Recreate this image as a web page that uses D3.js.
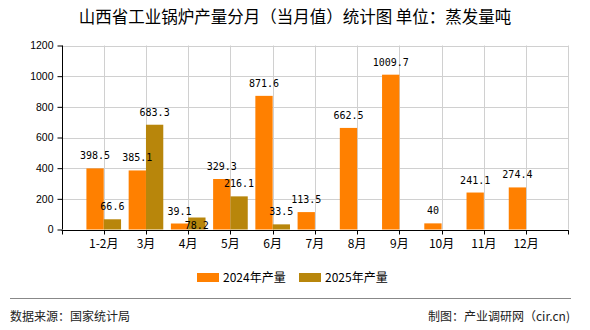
<!DOCTYPE html>
<html><head><meta charset="utf-8">
<script src="https://cdn.jsdelivr.net/npm/d3@7"></script>
<style>body{margin:0;background:#fff}svg{display:block}</style>
</head><body>
<script>
const categories = ["1-2月","3月","4月","5月","6月","7月","8月","9月","10月","11月","12月"];
const series2024 = [398.5,385.1,39.1,329.3,871.6,113.5,662.5,1009.7,40,241.1,274.4];
const series2025 = [66.6,683.3,78.2,216.1,33.5,null,null,null,null,null,null];
const seriesNames = ["2024年产量","2025年产量"];
const seriesColors = ["#FF8000","#B8860B"];
const yTicks = [0,200,400,600,800,1000,1200];
const title = "山西省工业锅炉产量分月（当月值）统计图 单位：蒸发量吨";
const sourceText = "数据来源：国家统计局";
const creditText = "制图：产业调研网（cir.cn)";

const W = 590, H = 330;
const svg = d3.select("body").append("svg").attr("width", W).attr("height", H);
const L = 61.5, R = 568.3, T = 45.5, B = 229.5;
const cjk = "'Noto Sans CJK SC','Noto Sans',sans-serif";

const x = d3.scaleBand().domain(categories).range([L, R]).paddingInner(0).paddingOuter(0.5);
const y = d3.scaleLinear().domain([0, 1200]).range([B, T]);
const barW = x.step() * 0.41;
const series = [series2024, series2025];

// gridlines
const g = svg.append("g");
g.selectAll("line.h").data(yTicks.filter(d => d > 0)).join("line")
  .attr("x1", L).attr("x2", R).attr("y1", d => Math.round(y(d)) + 0.5).attr("y2", d => Math.round(y(d)) + 0.5)
  .attr("stroke", "#d0d0d0");
g.selectAll("line.v").data(categories).join("line")
  .attr("x1", d => Math.round(x(d) + x.bandwidth()/2) + 0.5).attr("x2", d => Math.round(x(d) + x.bandwidth()/2) + 0.5)
  .attr("y1", T).attr("y2", B).attr("stroke", "#d0d0d0");
g.append("line").attr("x1", Math.round(R)+0.5).attr("x2", Math.round(R)+0.5).attr("y1", T).attr("y2", B).attr("stroke", "#d0d0d0");

// bars
series.forEach((s, si) => {
  svg.append("g").selectAll("rect").data(categories.map((c, i) => ({c, v: s[i]})).filter(d => d.v != null)).join("rect")
    .attr("x", d => x(d.c) + x.bandwidth()/2 - barW + si * barW)
    .attr("width", barW)
    .attr("y", d => y(d.v))
    .attr("height", d => B - y(d.v))
    .attr("fill", seriesColors[si]);
});

// axes
const yAxis = svg.append("g").attr("transform", `translate(${Math.round(L)+0.5},0)`)
  .call(d3.axisLeft(y).tickValues(yTicks).tickSize(5).tickPadding(4).tickFormat(d3.format("d")));
yAxis.select(".domain").attr("stroke", "#000").attr("d", `M-0,${T}V${B}`);
yAxis.selectAll("text").attr("font-family", "'Liberation Sans',Arial,sans-serif").attr("font-size", "10.5px").attr("fill", "#000");

const xAxisG = svg.append("g").attr("transform", `translate(0,${Math.round(B)+0.5})`);
xAxisG.append("line").attr("x1", L).attr("x2", R + 0.5).attr("stroke", "#000");
const tickXs = [L].concat(categories.map(c => x(c) + x.bandwidth()/2)).concat([R]);
xAxisG.selectAll("line.t").data(tickXs).join("line")
  .attr("x1", d => Math.round(d) + 0.5).attr("x2", d => Math.round(d) + 0.5).attr("y1", 0).attr("y2", 4).attr("stroke", "#000");
xAxisG.selectAll("text").data(categories).join("text")
  .attr("x", d => x(d) + x.bandwidth()/2).attr("y", 17.5).attr("text-anchor", "middle")
  .attr("font-family", cjk).attr("font-size", "12px").attr("fill", "#000").text(d => d);

// data labels with simple collision avoidance
const lblFont = "'DejaVu Sans Mono','Liberation Mono',monospace";
const charW = 6.02, lblH = 11;
categories.forEach((c, i) => {
  const placed = [];
  series.forEach((s, si) => {
    const v = s[i];
    if (v == null) return;
    const cx = x(c) + x.bandwidth()/2 - barW/2 + si * barW;
    const txt = String(v);
    const w = txt.length * charW;
    let cy = y(v) - 12.5;
    placed.forEach(p => {
      const overlapX = Math.abs(p.cx - cx) < (p.w + w) / 2;
      const overlapY = Math.abs(p.cy - cy) < lblH;
      if (overlapX && overlapY) cy = p.cy + 14;
    });
    placed.push({cx, cy, w});
    svg.append("text").attr("x", cx).attr("y", cy).attr("dy", "0.35em").attr("text-anchor", "middle")
      .attr("font-family", lblFont).attr("font-size", "10px").attr("fill", "#000").text(txt);
  });
});

// title
svg.append("text").attr("x", 295).attr("y", 17.5).attr("dy", "0.35em").attr("text-anchor", "middle")
  .attr("font-family", cjk).attr("font-size", "16.5px").attr("fill", "#000").text(title);

// legend
const legend = svg.append("g");
const legX = [197, 299];
seriesNames.forEach((n, i) => {
  legend.append("rect").attr("x", legX[i]).attr("y", 273).attr("width", 22).attr("height", 9).attr("fill", seriesColors[i]);
  legend.append("text").attr("x", legX[i] + 26).attr("y", 277.5).attr("dy", "0.35em")
    .attr("font-family", cjk).attr("font-size", "12px").attr("fill", "#000").text(n);
});

// footer
svg.append("line").attr("x1", 10).attr("x2", 571).attr("y1", 298.5).attr("y2", 298.5).attr("stroke", "#888");
svg.append("text").attr("x", 10).attr("y", 316.5).attr("dy", "0.35em").attr("font-family", cjk).attr("font-size", "12px").attr("fill", "#222").text(sourceText);
svg.append("text").attr("x", 570).attr("y", 316.5).attr("dy", "0.35em").attr("text-anchor", "end").attr("font-family", cjk).attr("font-size", "12px").attr("fill", "#222").text(creditText);
</script>
</body></html>
